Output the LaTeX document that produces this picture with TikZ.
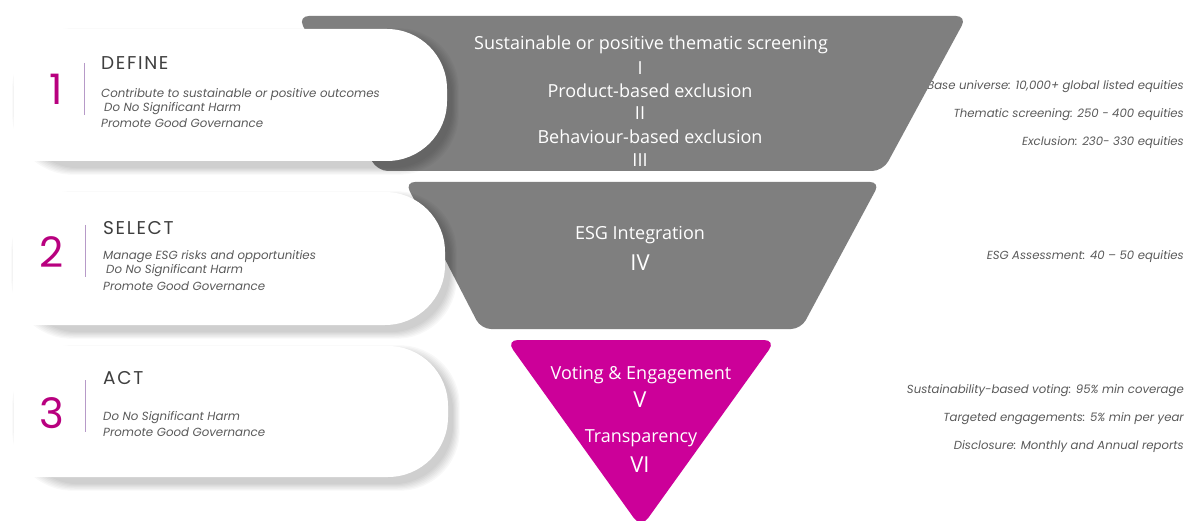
\documentclass[tikz,border=0pt]{standalone}
\usepackage{fontspec}
\setmainfont{Poppins}
\newfontfamily\funfont{Open Sans}
\newfontfamily\headfont[LetterSpace=9]{Poppins}
\definecolor{fgrey}{HTML}{7F7F7F}
\definecolor{fpink}{HTML}{CC0099}
\definecolor{numpink}{HTML}{B8007F}
\definecolor{divline}{HTML}{B79AC8}
\definecolor{headc}{HTML}{3F3F3F}
\definecolor{itc}{HTML}{5A5A5A}
\newcommand\mycard[4]{%
  \foreach \k in {0,...,6}{%
    \fill[black, opacity=0.026, rounded corners=60pt]
      ({#1+6-(7-\k)*1.1},{#2+7-(7-\k)*1.1}) -- ({#3+4+(7-\k)*1.1},{#2+7-(7-\k)*1.1})
      -- ({#3+4+(7-\k)*1.1},{#4+6+(7-\k)*1.1}) -- ({#1+6-(7-\k)*1.1},{#4+6+(7-\k)*1.1}) -- cycle;
  }%
  \fill[white] (#1,#2) [rounded corners=60pt] -- (#3,#2) -- (#3,#4) [sharp corners] -- (#1,#4) -- cycle;
}
\begin{document}
\begin{tikzpicture}[x=1pt,y=-1pt,
  rlab/.style={anchor=east, inner sep=0pt, font=\itshape\fontsize{11.7}{13}\selectfont, text=itc},
  itl/.style={anchor=west, inner sep=0pt, font=\itshape\fontsize{11.8}{13}\selectfont, text=itc},
  head/.style={anchor=west, inner sep=0pt, font=\headfont\fontsize{18.5}{20}\selectfont, text=headc},
  num/.style={inner sep=0pt, font=\fontsize{42}{44}\selectfont, text=numpink},
  ftext/.style={inner sep=0pt, font=\funfont\fontsize{18}{20}\selectfont, text=white},
  froman/.style={inner sep=0pt, font=\funfont\fontsize{22}{24}\selectfont, text=white},
  divider/.style={divline, line width=1pt}]
\useasboundingbox (0,0) rectangle (1185,521);
\fill[white] (0,0) rectangle (1185,521);

% right-hand labels
\node[rlab] (r1) at (1184,87) {Base universe: 10,000+ global listed equities};
\node[rlab] (r2) at (1184,115) {Thematic screening: 250 - 400 equities};
\node[rlab] (r3) at (1184,143) {Exclusion: 230- 330 equities};
\node[rlab] (r4) at (1184,257) {ESG Assessment: 40 – 50 equities};
\node[rlab] (r5) at (1184,391) {Sustainability-based voting: 95\% min coverage};
\node[rlab] (r6) at (1184,419) {Targeted engagements: 5\% min per year};
\node[rlab] (r7) at (1184,447) {Disclosure: Monthly and Annual reports};

% funnel
\fill[fgrey, rounded corners=11pt] (298,16) -- (967,16) -- (883,171) -- (377,171) -- cycle;
\fill[fgrey, rounded corners=10pt] (405,182) -- (880,182) -- (801,329) -- (481,329) -- cycle;
\begin{scope}
\clip (0,0) rectangle (1185,521);
\fill[fpink, rounded corners=12pt] (506,340) -- (776,340) -- (641,528) -- cycle;
\end{scope}

% cards
\mycard{14}{29}{447}{161}
\mycard{13}{192}{445}{325}
\mycard{14}{346}{448}{477}

% funnel texts
\node[ftext] (f1) at (651,45) {Sustainable or positive thematic screening};
\node[ftext] (f1n) at (640,68) {I};
\node[ftext] (f2) at (650,91) {Product-based exclusion};
\node[ftext] (f2n) at (640,113) {II};
\node[ftext] (f3) at (650,137) {Behaviour-based exclusion};
\node[ftext] (f3n) at (640,160) {III};
\node[ftext] (f4) at (640,235) {ESG Integration};
\node[froman] (f4n) at (640,263) {IV};
\node[ftext] (f5) at (641,375) {Voting \& Engagement};
\node[froman] (f5n) at (640,400) {V};
\node[ftext] (f6) at (641,438) {Transparency};
\node[froman] (f6n) at (640,465) {VI};

% card 1
\node[num] (n1) at (56,89) {1};
\draw[divider] (84,63) -- (84,115);
\node[head] (h1) at (101,63) {DEFINE};
\node[itl] (c1a) at (101,95) {Contribute to sustainable or positive outcomes};
\node[itl] (c1b) at (104,109) {Do No Significant Harm};
\node[itl] (c1c) at (101,123) {Promote Good Governance};

% card 2
\node[num] (n2) at (52,252) {2};
\draw[divider] (85,225) -- (85,277);
\node[head] (h2) at (103,228) {SELECT};
\node[itl] (c2a) at (103,257) {Manage ESG risks and opportunities};
\node[itl] (c2b) at (106,271) {Do No Significant Harm};
\node[itl] (c2c) at (103,286) {Promote Good Governance};

% card 3
\node[num] (n3) at (52,413) {3};
\draw[divider] (85,380) -- (85,432);
\node[head] (h3) at (103,378) {ACT};
\node[itl] (c3a) at (103,418) {Do No Significant Harm};
\node[itl] (c3b) at (103,432) {Promote Good Governance};
\end{tikzpicture}
\end{document}
